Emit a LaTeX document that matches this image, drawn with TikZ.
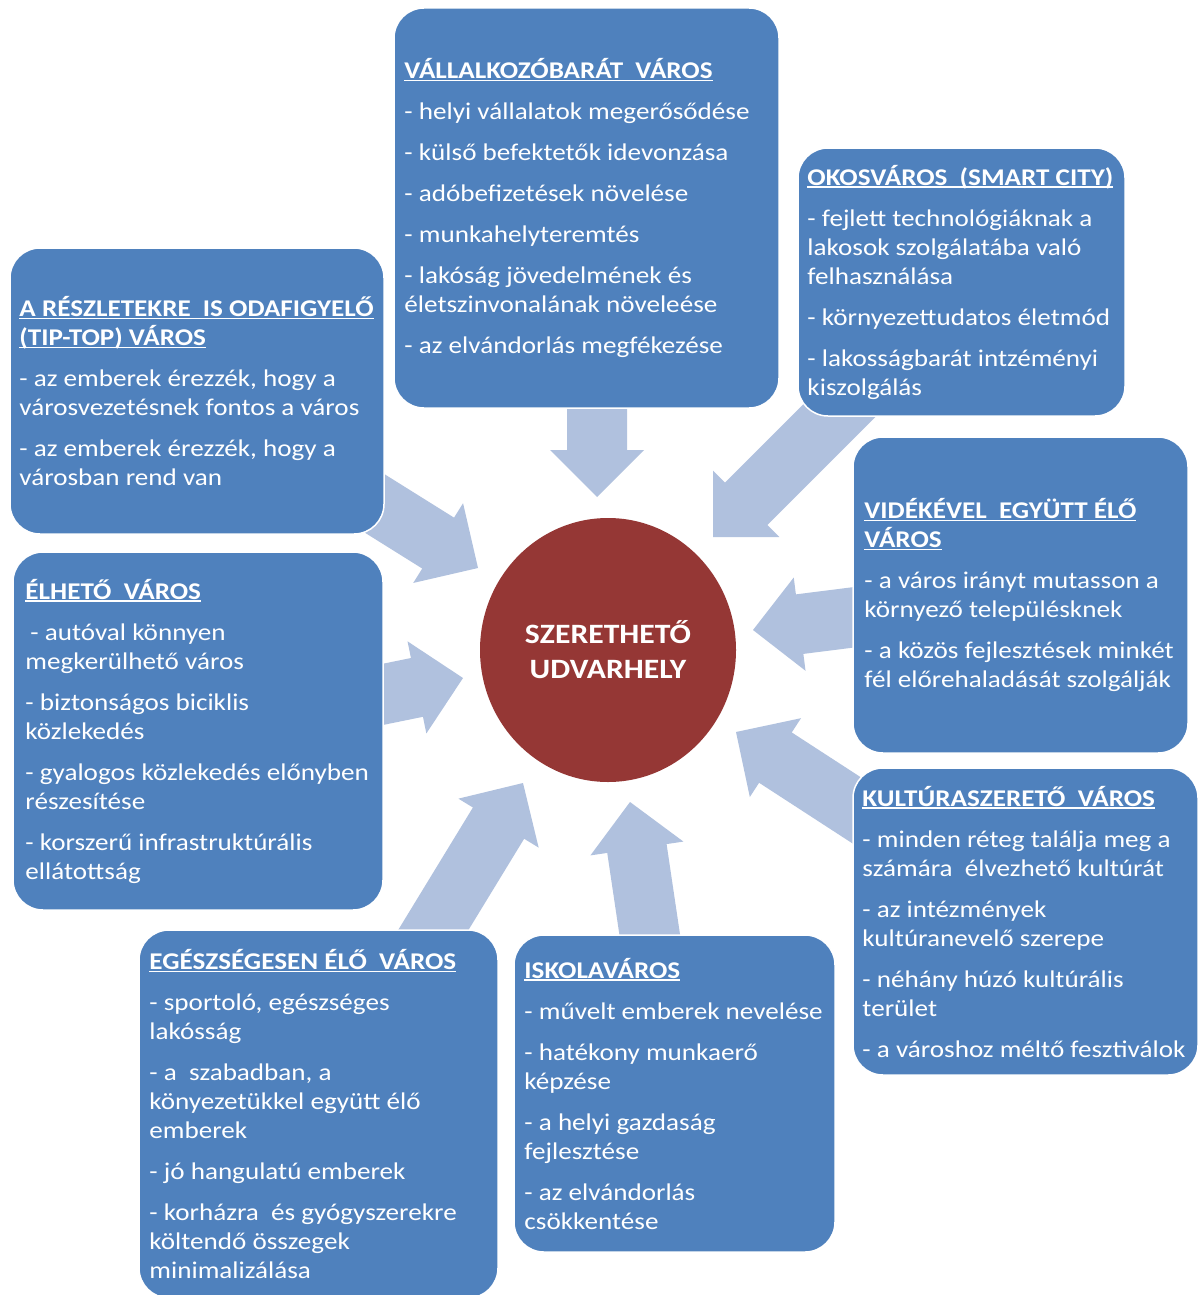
\documentclass[tikz,border=0pt]{standalone}
\usepackage{fontspec}
\setmainfont{Carlito}[FakeStretch=1.13]
\usetikzlibrary{calc,shapes.geometric}
\definecolor{boxblue}{HTML}{4F81BD}
\definecolor{arrowblue}{HTML}{B0C1DE}
\definecolor{hubred}{HTML}{953735}
\newcommand\hd[1]{\setbox0\hbox{\bfseries #1}\rlap{\rule[-2.5pt]{\wd0}{1.2pt}}\box0}
\newcommand\barrow[2]{%
  \path ($(#2)!47pt!(#1)$) coordinate (#2-h);
  \fill[arrowfill] ($(#1)!30pt!90:(#2)$) -- ($(#2-h)!30pt!90:(#2)$) -- ($(#2-h)!47pt!90:(#2)$) -- (#2)
    -- ($(#2-h)!47pt!-90:(#2)$) -- ($(#2-h)!30pt!-90:(#2)$) -- ($(#1)!30pt!-90:(#2)$) -- cycle;}
\tikzset{
  box/.style={fill=boxblue, draw=white, line width=1.5pt, rounded corners=30pt, inner sep=0pt},
  txt/.style={text=white, align=left, inner sep=0pt, anchor=west, font=\fontsize{24pt}{29pt}\selectfont},
  arrowfill/.style={fill=arrowblue},
}
\begin{document}
\begin{tikzpicture}[x=1pt,y=-1pt]
\clip (0,0) rectangle (1199,1295);
\fill[white] (0,0) rectangle (1199,1295);
% arrows
\coordinate (t1) at (597,400); \coordinate (p1) at (597,497);
\coordinate (t2) at (860,390); \coordinate (p2) at (713,537);
\coordinate (t3) at (880,614); \coordinate (p3) at (753,630);
\coordinate (t4) at (890,832); \coordinate (p4) at (736,732);
\coordinate (t5) at (652,950); \coordinate (p5) at (630,802);
\coordinate (t6) at (415,960); \coordinate (p6) at (523,783);
\coordinate (t7) at (370,697); \coordinate (p7) at (463,678);
\coordinate (t8) at (350,488); \coordinate (p8) at (478,568);
\barrow{t1}{p1}\barrow{t2}{p2}\barrow{t3}{p3}\barrow{t4}{p4}
\barrow{t5}{p5}\barrow{t6}{p6}\barrow{t7}{p7}\barrow{t8}{p8}
% boxes
\node[box, minimum width=385pt, minimum height=400pt] (b1) at (586.5,208) {};
\node[box, minimum width=327pt, minimum height=268pt] (b2) at (961.5,282) {};
\node[box, minimum width=374pt, minimum height=286pt] (b3) at (197,391) {};
\node[box, minimum width=335pt, minimum height=316pt] (b4) at (1020.5,595) {};
\node[box, minimum width=370pt, minimum height=358pt] (b5) at (198,731) {};
\node[box, minimum width=345pt, minimum height=307pt] (b6) at (1025.5,921.5) {};
\node[box, minimum width=359pt, minimum height=368pt] (b7) at (318.5,1114) {};
\node[box, minimum width=321pt, minimum height=317pt] (b8) at (674.5,1093.5) {};
% texts
\node[txt] (x1) at ($(b1.west)+(11,0)$) {\hd{VÁLLALKOZÓBARÁT\ \ VÁROS}\\[12pt]
- helyi vállalatok megerősődése\\[12pt]
- külső befektetők idevonzása\\[12pt]
- adóbefizetések növelése\\[12pt]
- munkahelyteremtés\\[12pt]
- lakóság jövedelmének és\\életszinvonalának növeleése\\[12pt]
- az elvándorlás megfékezése};
\node[txt] (x2) at ($(b2.west)+(10,0)$) {\hd{OKOSVÁROS\ \ (SMART CITY)}\\[12pt]
- fejlett technológiáknak a\\lakosok szolgálatába való\\felhasználása\\[12pt]
- környezettudatos életmód\\[12pt]
- lakosságbarát intzéményi\\kiszolgálás};
\node[txt] (x3) at ($(b3.west)+(10,0)$) {\hd{A RÉSZLETEKRE\ \ IS ODAFIGYELŐ}\\\hd{(TIP-TOP) VÁROS}\\[12pt]
- az emberek érezzék, hogy a\\városvezetésnek fontos a város\\[12pt]
- az emberek érezzék, hogy a\\városban rend van};
\node[txt] (x4) at ($(b4.west)+(12,0)$) {\hd{VIDÉKÉVEL\ \ EGYÜTT ÉLŐ}\\\hd{VÁROS}\\[12pt]
- a város irányt mutasson a\\környező településknek\\[12pt]
- a közös fejlesztések minkét\\fél előrehaladását szolgálják};
\node[txt] (x5) at ($(b5.west)+(13,0)$) {\hd{ÉLHETŐ\ \ VÁROS}\\[12pt]
\hspace*{5pt}- autóval könnyen\\megkerülhető város\\[12pt]
- biztonságos biciklis\\közlekedés\\[12pt]
- gyalogos közlekedés előnyben\\részesítése\\[12pt]
- korszerű infrastruktúrális\\ellátottság};
\node[txt] (x6) at ($(b6.west)+(10,0)$) {\hd{KULTÚRASZERETŐ\ \ VÁROS}\\[12pt]
- minden réteg találja meg a\\számára\ \ élvezhető kultúrát\\[12pt]
- az intézmények\\kultúranevelő szerepe\\[12pt]
- néhány húzó kultúrális\\terület\\[12pt]
- a városhoz méltő fesztiválok};
\node[txt] (x7) at ($(b7.west)+(11,0)$) {\hd{EGÉSZSÉGESEN ÉLŐ\ \ VÁROS}\\[12pt]
- sportoló, egészséges\\lakósság\\[12pt]
- a\ \ szabadban, a\\könyezetükkel együtt élő\\emberek\\[12pt]
- jó hangulatú emberek\\[12pt]
- korházra\ \ és gyógyszerekre\\költendő összegek\\minimalizálása};
\node[txt] (x8) at ($(b8.west)+(11,0)$) {\hd{ISKOLAVÁROS}\\[12pt]
- művelt emberek nevelése\\[12pt]
- hatékony munkaerő\\képzése\\[12pt]
- a helyi gazdaság\\fejlesztése\\[12pt]
- az elvándorlás\\csökkentése};
% hub
\node[ellipse, fill=hubred, minimum width=256pt, minimum height=264pt, inner sep=0pt,
  text=white, align=center, font=\bfseries\fontsize{28pt}{35pt}\selectfont] (hub) at (608,650) {SZERETHETŐ\\UDVARHELY};
\end{tikzpicture}
\end{document}
